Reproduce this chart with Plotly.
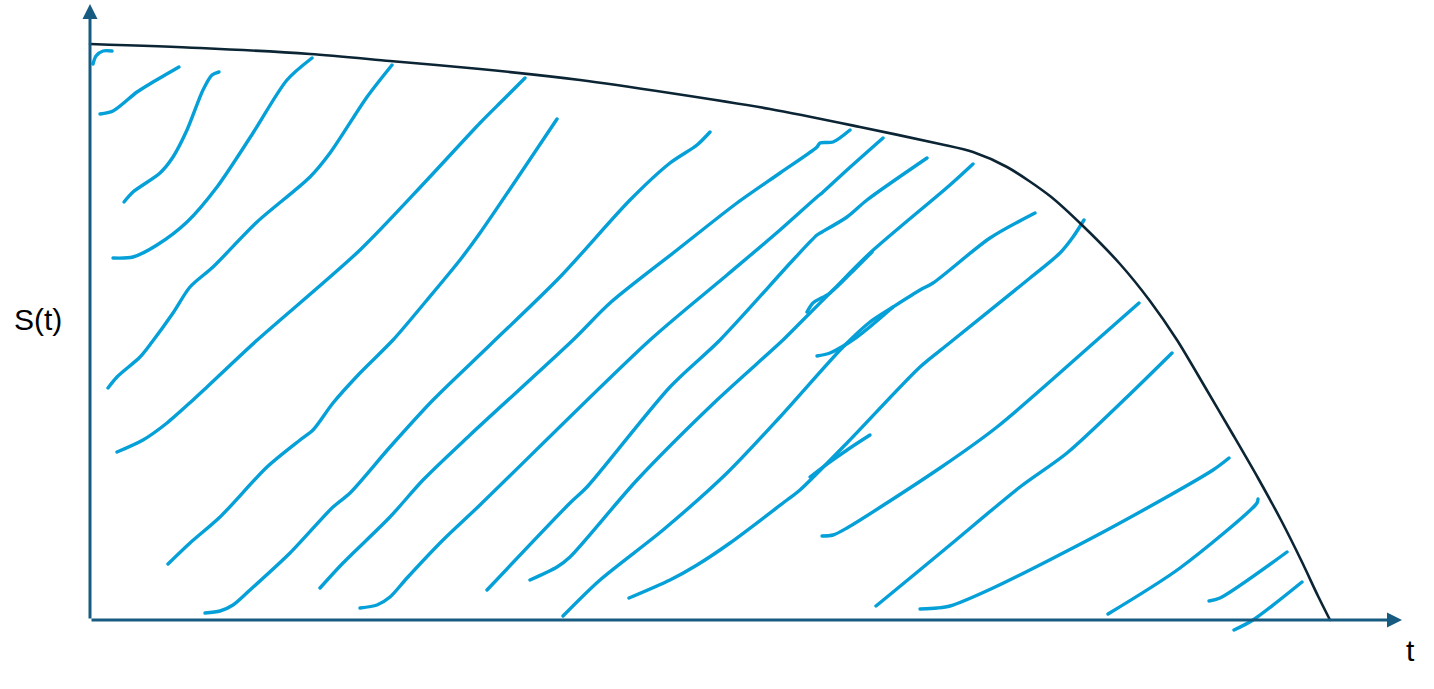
import plotly.graph_objects as go

# ---- data (t, S(t) units; origin at axis corner) ----
curve_t = [0, 110, 220, 300, 390, 490, 580, 680, 770, 850, 883, 917, 960, 993, 1030, 1060, 1087, 1115, 1142, 1168, 1192, 1212, 1228, 1240]
curve_s = [576, 572, 566, 559, 551, 540, 527, 511, 493, 476, 468, 453, 424, 394, 356, 319, 280, 233, 187, 142, 98, 58, 24, 0]

# hand-drawn hatch strokes under the curve
hatch_t = [
    [3, 6, 13, 22],
    [10, 23, 47, 63, 89],
    [34, 43, 70, 83, 97, 113, 122, 129],
    [23, 43, 67, 97, 127, 163, 197, 222],
    [18, 27, 50, 62, 83, 100, 123, 167, 220, 240, 277, 302],
    [27, 53, 77, 103, 117, 165, 270, 337, 390, 413, 435],
    [78, 100, 130, 177, 210, 223, 243, 270, 303, 337, 370, 390, 467],
    [115, 130, 143, 160, 200, 243, 260, 300, 343, 400, 470, 540, 580, 607, 620],
    [230, 253, 300, 333, 380, 483, 520, 587, 647, 690, 727, 730, 743, 760],
    [270, 287, 300, 317, 353, 390, 560, 637, 690, 727, 732, 757, 793],
    [397, 480, 497, 580, 630, 703, 727, 732, 757, 777, 837],
    [440, 467, 480, 547, 627, 693, 713, 743, 780, 860, 883],
    [717, 723, 740, 767, 782],
    [473, 510, 573, 637, 690, 753, 780, 803, 830, 843, 900, 945],
    [727, 740, 767, 803],
    [539, 580, 607, 640, 697, 710, 757, 830, 857, 940, 970, 983, 994],
    [720, 733, 760, 780],
    [732, 743, 757, 850, 907, 1007, 1049],
    [786, 797, 860, 930, 977, 1037, 1082],
    [830, 847, 860, 903, 1017, 1123, 1139],
    [1018, 1090, 1167, 1168],
    [1119, 1130, 1197],
    [1144, 1163, 1212],
]
hatch_s = [
    [556, 564, 569, 569],
    [506, 509, 528, 538, 553],
    [418, 428, 447, 463, 490, 530, 545, 548],
    [362, 363, 375, 398, 433, 487, 540, 562],
    [232, 243, 263, 278, 307, 333, 353, 398, 443, 467, 523, 555],
    [168, 180, 197, 220, 233, 278, 370, 440, 497, 520, 542],
    [56, 77, 103, 153, 180, 190, 217, 247, 280, 320, 360, 387, 501],
    [7, 9, 15, 30, 67, 113, 127, 173, 220, 275, 343, 420, 457, 475, 488],
    [32, 57, 103, 140, 185, 280, 317, 370, 417, 447, 473, 477, 478, 490],
    [12, 15, 23, 42, 80, 115, 280, 345, 390, 423, 427, 450, 482],
    [30, 117, 133, 233, 280, 360, 385, 388, 403, 420, 462],
    [40, 53, 63, 140, 220, 280, 300, 330, 367, 435, 456],
    [308, 317, 327, 353, 368],
    [4, 40, 90, 147, 203, 273, 298, 313, 330, 337, 382, 407],
    [264, 267, 283, 313],
    [22, 40, 55, 77, 120, 130, 177, 253, 275, 342, 367, 383, 400],
    [143, 153, 172, 185],
    [84, 85, 92, 152, 193, 280, 317],
    [14, 23, 75, 133, 167, 223, 267],
    [11, 12, 14, 32, 90, 150, 162],
    [6, 52, 117, 121],
    [19, 22, 68],
    [-10, 0, 38],
]

axis_t_end = 1312
axis_s_end = 616
y_label = "S(t)"
x_label = "t"

HATCH_COLOR = "#05A0D8"
CURVE_COLOR = "#0C2535"
AXIS_COLOR = "#175C80"

fig = go.Figure()

for ht, hs in zip(hatch_t, hatch_s):
    fig.add_trace(go.Scatter(
        x=ht, y=hs, mode="lines",
        line=dict(color=HATCH_COLOR, width=3.4, shape="spline", smoothing=0.8),
        hoverinfo="skip", showlegend=False))

fig.add_trace(go.Scatter(
    x=curve_t, y=curve_s, mode="lines",
    line=dict(color=CURVE_COLOR, width=2.6, shape="spline", smoothing=0.8),
    hoverinfo="skip", showlegend=False))

# axes drawn as arrows
fig.add_annotation(x=axis_t_end, y=0, ax=0, ay=0, xref="x", yref="y", axref="x", ayref="y",
                   showarrow=True, arrowhead=2, arrowsize=1, arrowwidth=3, arrowcolor=AXIS_COLOR,
                   text="", standoff=0)
fig.add_annotation(x=0, y=axis_s_end, ax=0, ay=0, xref="x", yref="y", axref="x", ayref="y",
                   showarrow=True, arrowhead=2, arrowsize=1, arrowwidth=3, arrowcolor=AXIS_COLOR,
                   text="", standoff=0)

fig.add_annotation(x=-52, y=301, xref="x", yref="y", text=y_label, showarrow=False,
                   font=dict(family="Liberation Sans, Arial, sans-serif", size=30, color="#000000"))
fig.add_annotation(x=1320, y=-30, xref="x", yref="y", text=x_label, showarrow=False,
                   font=dict(family="Liberation Sans, Arial, sans-serif", size=30, color="#000000"))

fig.update_layout(
    width=1434, height=689,
    margin=dict(l=0, r=0, t=0, b=0),
    paper_bgcolor="white", plot_bgcolor="white",
    xaxis=dict(range=[-90, 1344], visible=False, fixedrange=True),
    yaxis=dict(range=[-69, 620], visible=False, fixedrange=True),
    showlegend=False,
)

post = (
    "document.body.style.margin='0';"
    "document.body.style.overflow='hidden';"
    "document.querySelectorAll('.scatterlayer path.js-line').forEach(function(p){"
    "p.style.strokeLinecap='round';p.style.strokeLinejoin='round';});"
)
fig.write_html("out.html", config={"displayModeBar": False}, post_script=post)
